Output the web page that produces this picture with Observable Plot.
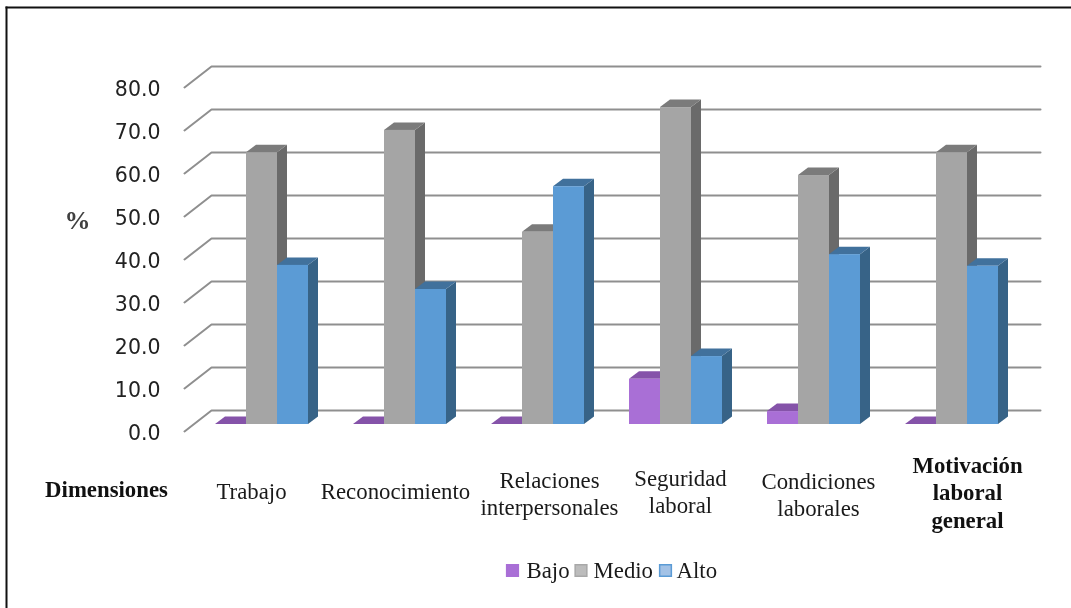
<!DOCTYPE html>
<html>
<head>
<meta charset="utf-8">
<script src="https://cdn.jsdelivr.net/npm/d3@7"></script>
<script src="https://cdn.jsdelivr.net/npm/@observablehq/plot@0.6"></script>
<style>html,body{margin:0;padding:0;background:#fff}svg{display:block;filter:blur(0.4px)}</style>
</head>
<body>
<script>
const categories = ["Trabajo","Reconocimiento","Relaciones\ninterpersonales","Seguridad\nlaboral","Condiciones\nlaborales","Motivación\nlaboral\ngeneral"];
const seriesNames = ["Bajo","Medio","Alto"];
const bajo  = [0, 0, 0, 10.5, 3.0, 0];
const medio = [63.2, 68.4, 44.7, 73.7, 57.9, 63.2];
const alto  = [37.0, 31.4, 55.3, 15.8, 39.5, 36.8];
const ticks = [0,10,20,30,40,50,60,70,80];

// layout
const X0 = 184, X1 = 1013, Y0 = 424, Y80 = 80;
const xAt = px => (px - X0) / (X1 - X0) * categories.length;
const yAt = px => (Y0 - px) / (Y0 - Y80) * 80;
const serif = "'Liberation Serif','Times New Roman',serif";

const fronts = ["#a96fd6","#a5a5a5","#5b9bd5"];
const tops   = ["#8553a9","#7b7b7b","#41719c"];
const sides  = ["#7f4fa3","#6a6a6a","#376387"];
const swatch = ["#a96fd6","#bcbcbc","#a3c2e6"];
const swatchEdge = ["#a96fd6","#a8a8a8","#5b9bd5"];

const values = [bajo, medio, alto];
const rows = categories.flatMap((c, i) => seriesNames.map((s, j) => ({
  i, j, s, v: values[j][i],
  x1: xAt(215 + 138 * i + 31 * j),
  x2: xAt(215 + 138 * i + 31 * (j + 1))
})));

// gridlines run from the front edge over the floor depth to the back wall
const gridPts = ticks.flatMap(t => [
  {t, x: xAt(X0), y: yAt(Y0 - (Y0 - Y80) * t / 80 + 7)},
  {t, x: xAt(211), y: yAt(Y0 - (Y0 - Y80) * t / 80 - 14)},
  {t, x: xAt(1040), y: yAt(Y0 - (Y0 - Y80) * t / 80 - 14)}
]);

function bars3d(index, scales, vals, dims, ctx, next) {
  const g = next(index, scales, vals, dims, ctx);
  const rects = [...g.querySelectorAll("rect")];
  const dx = 10, dy = 7.5;
  index.forEach((di, k) => {
    const r = rects[k], d = rows[di];
    const x = +r.getAttribute("x"), y = +r.getAttribute("y");
    const w = +r.getAttribute("width"), h = +r.getAttribute("height");
    const poly = (pts, fill) => {
      const p = document.createElementNS("http://www.w3.org/2000/svg", "polygon");
      p.setAttribute("points", pts.map(q => q.join(",")).join(" "));
      p.setAttribute("fill", fill);
      g.insertBefore(p, r);
    };
    poly([[x+w,y],[x+w+dx,y-dy],[x+w+dx,y+h-dy],[x+w,y+h]], sides[d.j]);
    poly([[x,y],[x+dx,y-dy],[x+w+dx,y-dy],[x+w,y]], tops[d.j]);
  });
  return g;
}

const label = (text, px, py, opts = {}) => Plot.text([text], {
  x: () => xAt(px), y: () => yAt(py), text: d => d,
  fontFamily: serif, fontSize: 22.8, fill: "#1a1a1a", lineHeight: 1.2, ...opts
});

const labelPos = [[251,490],[395,490],[549,492],[680,490],[818,493],[967,491]];

const plot = Plot.plot({
  width: 1071, height: 608,
  marginTop: 7, marginLeft: 6, marginRight: 0, marginBottom: 0,
  x: {type: "linear", domain: [0, categories.length], range: [X0, X1], axis: null},
  y: {type: "linear", domain: [0, 80], range: [Y0, Y80], axis: null},
  marks: [
    Plot.frame({anchor: "top", stroke: "#111", strokeWidth: 2}),
    Plot.frame({anchor: "left", stroke: "#111", strokeWidth: 2}),
    Plot.line(gridPts, {x: "x", y: "y", z: "t", stroke: "#8f8f8f", strokeWidth: 2, curve: "linear"}),
    Plot.text(ticks, {
      x: () => xAt(160), y: d => d, dy: 9, text: d => d.toFixed(1), textAnchor: "end",
      fontFamily: "'DejaVu Sans',sans-serif", fontSize: 20.5, fill: "#222"
    }),
    Plot.rect(rows, {
      x1: "x1", x2: "x2", y1: () => 0, y2: "v",
      fill: d => fronts[d.j], render: bars3d
    }),
    label("%", 77, 219, {fontWeight: "bold", fill: "#404040", fontSize: 26}),
    label("Dimensiones", 106, 488, {fontWeight: "bold", fill: "#111"}),
    ...categories.map((c, i) => label(c, labelPos[i][0], labelPos[i][1],
      i === categories.length - 1 ? {fontWeight: "bold", fill: "#111"} : {})),
    ...seriesNames.map((s, j) => Plot.dot([s], {
      x: () => xAt([512, 580.5, 665][j]), y: () => yAt(570),
      symbol: "square", r: 6.6, fill: swatch[j], stroke: swatchEdge[j], strokeWidth: 1.5
    })),
    ...seriesNames.map((s, j) => label(s, [526, 593, 676][j], 569, {textAnchor: "start"}))
  ]
});
document.body.appendChild(plot);
</script>
</body>
</html>
